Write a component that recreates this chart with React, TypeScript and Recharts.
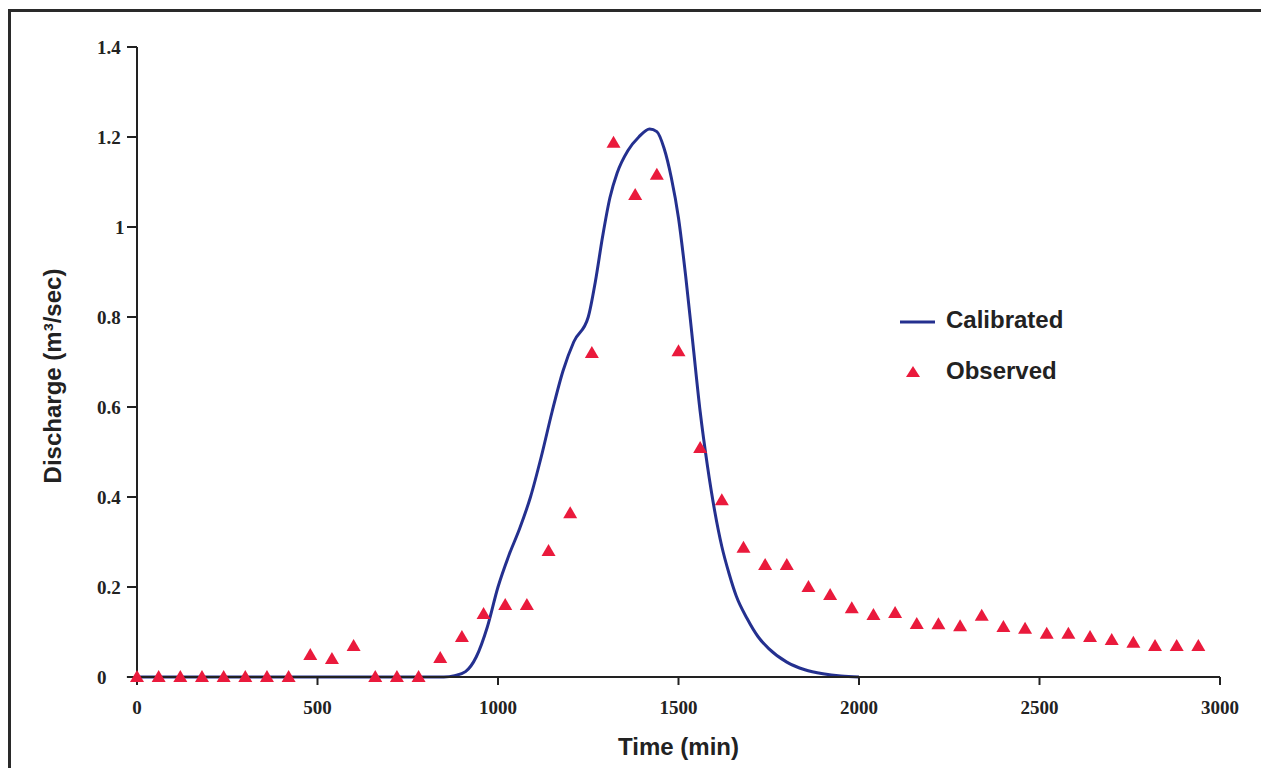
import React from 'react';
import {
  ComposedChart,
  Line,
  Scatter,
  XAxis,
  YAxis,
  ReferenceLine,
  Legend,
} from 'recharts';

// Calibrated (simulated) hydrograph: time (min) and discharge (m3/sec)
const calTime = [
  0, 850, 880, 910, 940, 970, 1000, 1030, 1060, 1090, 1120, 1150, 1180, 1210, 1250,
  1270, 1290, 1310, 1330, 1360, 1390, 1420, 1440, 1460, 1480, 1500, 1520, 1540,
  1560, 1580, 1600, 1620, 1640, 1660, 1690, 1720, 1750, 1800, 1850, 1900, 1950, 2000,
];
const calQ = [
  0, 0, 0.003, 0.012, 0.045, 0.11, 0.2, 0.27, 0.33, 0.4, 0.49, 0.59, 0.68, 0.745, 0.8,
  0.88, 0.98, 1.065, 1.12, 1.17, 1.2, 1.218, 1.212, 1.175, 1.11, 1.02, 0.89, 0.74,
  0.59, 0.47, 0.37, 0.29, 0.23, 0.18, 0.13, 0.09, 0.063, 0.033, 0.016, 0.007, 0.002, 0,
];

// Observed discharge, every 60 minutes
const obsTime = [
  0, 60, 120, 180, 240, 300, 360, 420, 480, 540, 600, 660, 720, 780, 840, 900, 960,
  1020, 1080, 1140, 1200, 1260, 1320, 1380, 1440, 1500, 1560, 1620, 1680, 1740, 1800,
  1860, 1920, 1980, 2040, 2100, 2160, 2220, 2280, 2340, 2400, 2460, 2520, 2580, 2640,
  2700, 2760, 2820, 2880, 2940,
];
const obsQ = [
  0, 0, 0, 0, 0, 0, 0, 0, 0.049, 0.04, 0.069, 0, 0, 0, 0.042, 0.089, 0.14, 0.16, 0.16,
  0.28, 0.364, 0.72, 1.187, 1.071, 1.116, 0.724, 0.509, 0.393, 0.287, 0.249, 0.249,
  0.2, 0.182, 0.153, 0.138, 0.142, 0.118, 0.117, 0.113, 0.136, 0.111, 0.107, 0.096,
  0.096, 0.089, 0.082, 0.076, 0.069, 0.069, 0.069,
];

const xTicks = [0, 500, 1000, 1500, 2000, 2500, 3000];
const yTicks = [0, 0.2, 0.4, 0.6, 0.8, 1, 1.2, 1.4];

const calData = calTime.map((t, i) => ({ t, q: calQ[i] }));
const obsData = obsTime.map((t, i) => ({ t, q: obsQ[i] }));

const LINE_COLOR = '#24308f';
const TRI_COLOR = '#ea1a3c';
const AXIS_COLOR = '#222';
const SERIF = '"Liberation Serif", "Times New Roman", serif';
const SANS = '"Liberation Sans", Arial, sans-serif';

const Triangle = (props: any) => {
  const { cx, cy } = props;
  if (cx == null || cy == null) return null;
  return (
    <polygon
      points={`${cx},${cy - 7} ${cx - 7},${cy + 5} ${cx + 7},${cy + 5}`}
      fill={TRI_COLOR}
    />
  );
};

const YTick = (props: any) => {
  const { x, y, payload } = props;
  const v = payload.value;
  const dx = v === 1 ? -10 : -28;
  return (
    <text
      x={x + dx}
      y={y}
      dy="0.35em"
      textAnchor="start"
      fontFamily={SERIF}
      fontWeight="bold"
      fontSize={19}
      fill={AXIS_COLOR}
    >
      {String(v)}
    </text>
  );
};

const XTitle = (props: any) => {
  const vb = props.viewBox || {};
  return (
    <text
      x={vb.x + vb.width / 2}
      y={vb.y + 78}
      textAnchor="middle"
      fontFamily={SANS}
      fontWeight="bold"
      fontSize={24}
      fill={AXIS_COLOR}
    >
      Time (min)
    </text>
  );
};

const YTitle = (props: any) => {
  const vb = props.viewBox || {};
  const cx = 53;
  const cy = vb.y + vb.height / 2 + 14;
  return (
    <text
      x={cx}
      y={cy}
      transform={`rotate(-90 ${cx} ${cy})`}
      textAnchor="middle"
      fontFamily={SANS}
      fontWeight="bold"
      fontSize={24}
      fill={AXIS_COLOR}
    >
      Discharge (m³/sec)
    </text>
  );
};

const LegendContent = (props: any) => {
  const payload = props.payload || [];
  return (
    <svg width={220} height={100} style={{ overflow: 'visible' }}>
      {payload.map((p: any, i: number) => {
        const y = 24 + i * 51;
        const isLine = p.type === 'line';
        return (
          <g key={p.value}>
            {isLine ? (
              <line x1={12} x2={47} y1={y + 2} y2={y + 2} stroke={LINE_COLOR} strokeWidth={3} />
            ) : (
              <polygon
                points={`${25},${y - 5} ${18},${y + 6} ${32},${y + 6}`}
                fill={TRI_COLOR}
              />
            )}
            <text
              x={58}
              y={y}
              dy="0.35em"
              fontFamily={SANS}
              fontWeight="bold"
              fontSize={24}
              fill={AXIS_COLOR}
            >
              {p.value}
            </text>
          </g>
        );
      })}
    </svg>
  );
};

export default function App() {
  return (
    <div style={{ position: 'relative', width: 1253, height: 760, overflow: 'hidden', background: '#fff' }}>
      <div
        style={{
          position: 'absolute',
          left: 0,
          top: 1,
          right: -20,
          bottom: -20,
          borderTop: '3px solid #2a2a2a',
          borderLeft: '3px solid #2a2a2a',
          pointerEvents: 'none',
        }}
      />
      <ComposedChart
        width={1253}
        height={760}
        margin={{ top: 39, right: 41, bottom: 31, left: 0 }}
      >
        <XAxis
          type="number"
          dataKey="t"
          domain={[0, 3000]}
          ticks={xTicks}
          tickSize={8}
          tickMargin={16}
          axisLine={{ stroke: AXIS_COLOR, strokeWidth: 2 }}
          tickLine={{ stroke: AXIS_COLOR, strokeWidth: 2 }}
          tick={{ fontFamily: SERIF, fontWeight: 'bold', fontSize: 19, fill: AXIS_COLOR }}
          height={60}
          label={<XTitle />}
        />
        <YAxis
          type="number"
          dataKey="q"
          domain={[0, 1.4]}
          ticks={yTicks}
          width={129}
          tickSize={10}
          tickMargin={2}
          axisLine={{ stroke: AXIS_COLOR, strokeWidth: 2 }}
          tickLine={{ stroke: AXIS_COLOR, strokeWidth: 2 }}
          tick={<YTick />}
          label={<YTitle />}
        />
        <ReferenceLine
          segment={[{ x: -28, y: 0 }, { x: 0, y: 0 }]}
          ifOverflow="visible"
          stroke={AXIS_COLOR}
          strokeWidth={2}
        />
        <Legend
          layout="vertical"
          align="center"
          verticalAlign="middle"
          content={<LegendContent />}
          wrapperStyle={{ position: 'absolute', left: 880, top: 288, width: 220, height: 100 }}
        />
        <Line
          data={calData}
          dataKey="q"
          name="Calibrated"
          type="monotone"
          stroke={LINE_COLOR}
          strokeWidth={3}
          dot={false}
          activeDot={false}
          legendType="line"
          isAnimationActive={false}
        />
        <Scatter
          data={obsData}
          dataKey="q"
          name="Observed"
          fill={TRI_COLOR}
          shape={<Triangle />}
          legendType="triangle"
          isAnimationActive={false}
        />
      </ComposedChart>
    </div>
  );
}
